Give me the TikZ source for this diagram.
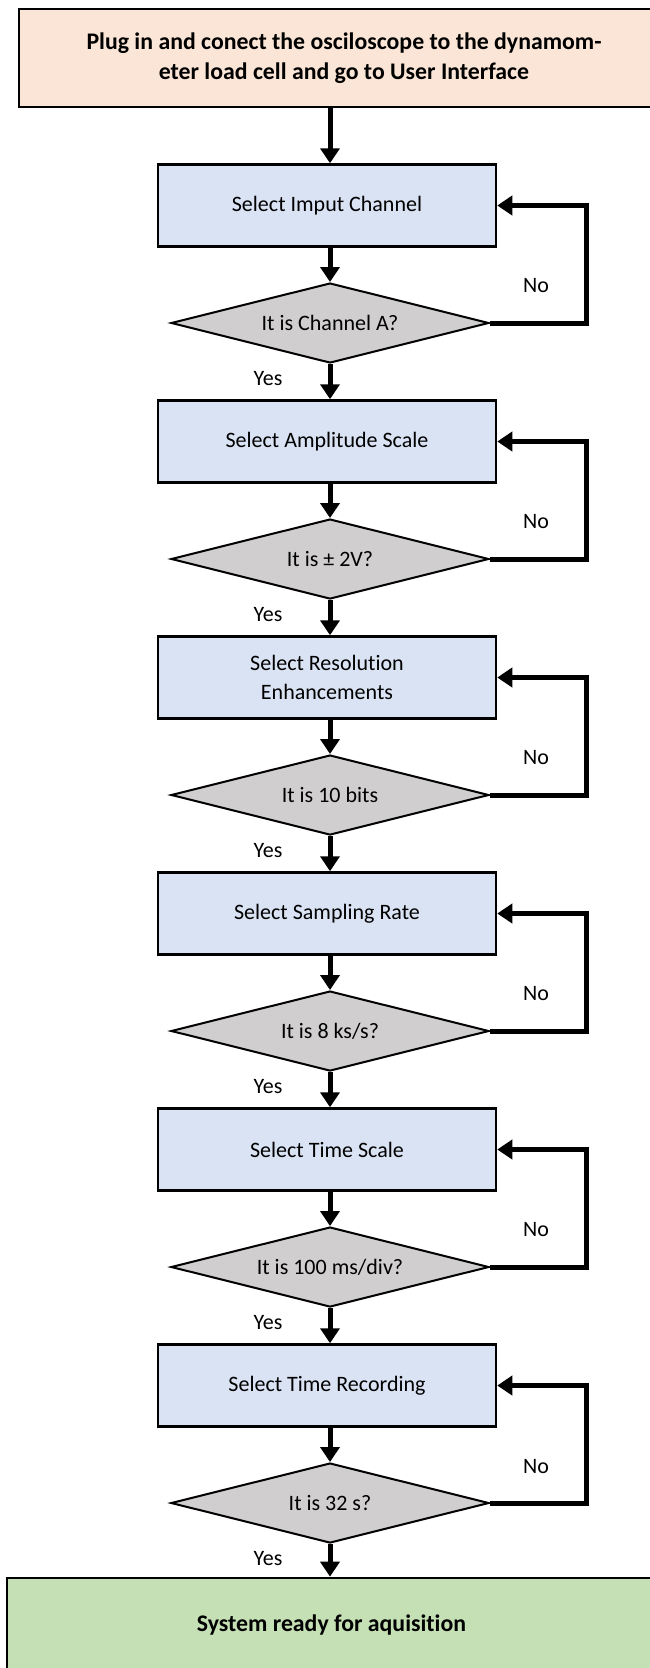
\documentclass[tikz,border=0pt]{standalone}
\usepackage{fontspec}
\setmainfont{Carlito}[Ligatures=NoCommon]
\usetikzlibrary{shapes.geometric,arrows.meta,calc}
\definecolor{peach}{HTML}{FBE5D6}
\definecolor{lblue}{HTML}{DAE3F3}
\definecolor{lgrey}{HTML}{D0CECE}
\definecolor{lgreen}{HTML}{C5E0B4}
\begin{document}
\begin{tikzpicture}[x=1pt,y=-1pt,
  font=\fontsize{22}{29}\selectfont,
  stepbox/.style={draw=black,line width=2.5pt,fill=lblue,minimum width=338pt,minimum height=82pt,inner sep=0pt,align=center},
  question/.style={diamond,draw=black,line width=2pt,fill=lgrey,aspect=4,minimum width=318pt,minimum height=80pt,inner sep=0pt},
  termbox/.style={draw=black,line width=2.7pt,inner sep=0pt,align=center},
  arr/.style={line width=5pt,-{Triangle[width=19pt,length=15pt]}},
  lab/.style={inner sep=0pt}
]
\useasboundingbox (0,0) rectangle (649,1668);
\node[termbox,fill=peach,minimum width=650pt,minimum height=98pt,font=\fontsize{23.8}{30}\selectfont\bfseries] (top) at (344,58)
  {Plug in and conect the osciloscope to the dynamom-\\eter load cell and go to User Interface};
\coordinate (lx) at (586,0);
\foreach \i/\t/\q in {0/{Select Imput Channel}/{It is Channel A?},
                      1/{Select Amplitude Scale}/{It is ± 2V?},
                      2/{Select Resolution\\Enhancements}/{It is 10 bits},
                      3/{Select Sampling Rate}/{It is 8 ks/s?},
                      4/{Select Time Scale}/{It is 100 ms/div?},
                      5/{Select Time Recording}/{It is 32 s?}}{
  \node[stepbox] (b\i) at (327,205.5+236*\i) {\t};
  \node[question] (d\i) at (330,323+236*\i) {\q};
  \node[lab] (y\i) at (268,379+236*\i) {Yes};
  \node[lab] (n\i) at (536,286+236*\i) {No};
  \draw[arr] (d\i.north |- b\i.south) -- (d\i.north);
  \draw[arr,line join=miter] (d\i.east) -- (d\i.east -| lx) |- (b\i.east);
}
\node[termbox,fill=lgreen,minimum width=649pt,minimum height=94pt,font=\fontsize{23.8}{29}\selectfont\bfseries] (fin) at (331.5,1625) {System ready for aquisition};
\draw[arr] (top.south -| d0.north) -- (d0.north |- b0.north);
\foreach \i [evaluate=\i as \j using int(\i+1)] in {0,...,4}{
  \draw[arr] (d\i.south) -- (d\i.south |- b\j.north);
}
\draw[arr] (d5.south) -- (d5.south |- fin.north);
\end{tikzpicture}
\end{document}
